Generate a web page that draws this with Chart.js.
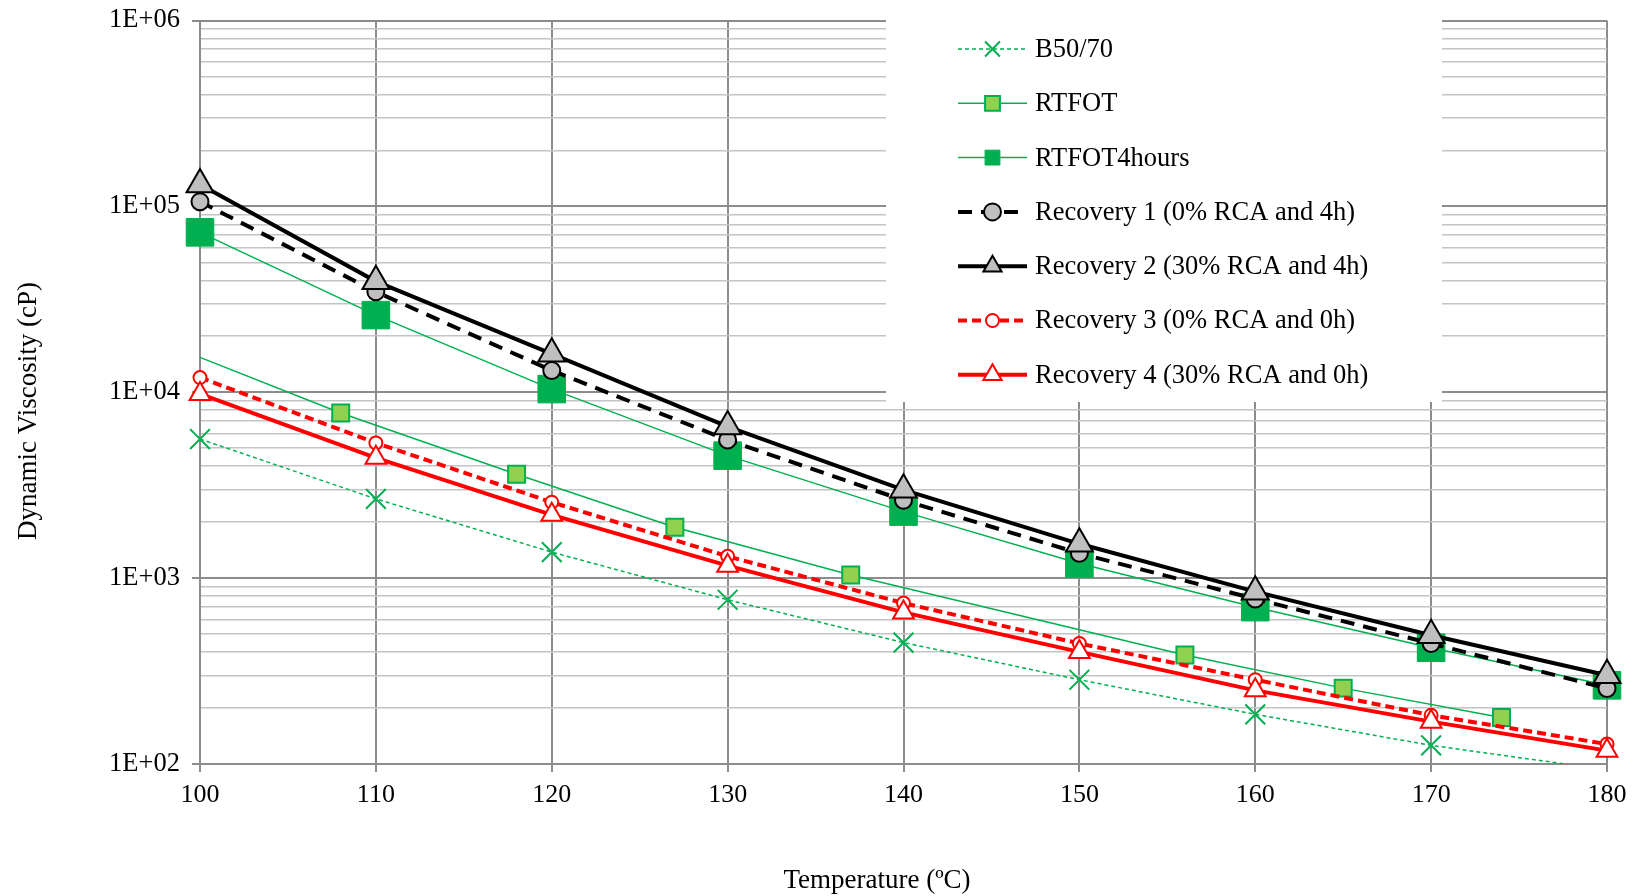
<!DOCTYPE html>
<html>
<head>
<meta charset="utf-8">
<script src="https://cdn.jsdelivr.net/npm/chart.js@4.4.0/dist/chart.umd.min.js"></script>
<style>
body{margin:0;background:#fff;}
#wrap{width:1634px;height:896px;}
</style>
</head>
<body>
<div id="wrap"><canvas id="chart" width="1634" height="896"></canvas></div>
<script>
// temperatures (ºC)
const temps=[100,110,120,130,140,150,160,170,180];
const rtfotTemps=[100,108,118,127,137,156,165,174];

// viscosity (cP)
const b5070=[5600,2670,1380,765,450,284,185,126,93];
const rtfot=[15400,7730,3620,1880,1040,386,256,178];
const rtfot4h=[72500,26000,10400,4560,2280,1200,698,422,265];
const recovery1=[106000,34700,13100,5530,2625,1360,773,445,255];
const recovery2=[131000,39500,16100,6540,2985,1530,846,493,300];
const recovery3=[12000,5340,2560,1310,734,445,284,183,128];
const recovery4=[9800,4440,2190,1167,654,401,249,169,118];

const seriesNames=['B50/70','RTFOT','RTFOT4hours','Recovery 1 (0% RCA and 4h)','Recovery 2 (30% RCA and 4h)','Recovery 3 (0% RCA and 0h)','Recovery 4 (30% RCA and 0h)'];

const yDecades=[100,1000,10000,100000,1000000];
const yTickLabels=['1E+02','1E+03','1E+04','1E+05','1E+06'];
const xTicks=[100,110,120,130,140,150,160,170,180];

const FONT='"Liberation Serif", "Times New Roman", serif';
const GREEN='#00B050', LIGHTGREEN='#92D050', GREY='#BFBFBF', RED='#FF0000';

// minor log gridlines 2..9 inside each decade
const yTickValues=[];
yDecades.forEach((d,i)=>{
    yTickValues.push(d);
    if(i<yDecades.length-1){
        for(let k=2;k<=9;k++) yTickValues.push(d*k);
    }
});

const pts=(xs,ys)=>ys.map((v,i)=>({x:xs[i],y:v}));
const noClip={left:false,top:false,right:false,bottom:false};

const datasets=[
    {
        // last point lies under the axis minimum: Excel hides its marker
        label:seriesNames[0], data:pts(temps,b5070),
        borderColor:GREEN, borderWidth:1.5, borderDash:[4,3],
        pointStyle:'crossRot', pointRadius:[14,14,14,14,14,14,14,14,0], pointBorderWidth:2,
        pointBorderColor:GREEN, pointBackgroundColor:GREEN,
        clip:{left:false,top:false,right:false,bottom:0}
    },
    {
        label:seriesNames[1], data:pts(rtfotTemps,rtfot),
        borderColor:GREEN, borderWidth:1.5,
        pointStyle:'rect', pointRadius:[0,12,12,12,12,12,12,12], pointBorderWidth:2,
        pointBorderColor:GREEN, pointBackgroundColor:LIGHTGREEN, clip:noClip
    },
    {
        label:seriesNames[2], data:pts(temps,rtfot4h),
        borderColor:GREEN, borderWidth:1.5,
        pointStyle:'rect', pointRadius:19.5, pointBorderWidth:1,
        pointBorderColor:GREEN, pointBackgroundColor:GREEN, clip:noClip
    },
    {
        label:seriesNames[3], data:pts(temps,recovery1),
        borderColor:'#000', borderWidth:4, borderDash:[14,9],
        pointStyle:'circle', pointRadius:8.5, pointBorderWidth:2,
        pointBorderColor:'#000', pointBackgroundColor:GREY, clip:noClip
    },
    {
        label:seriesNames[4], data:pts(temps,recovery2),
        borderColor:'#000', borderWidth:4,
        pointStyle:'triangle', pointRadius:15.5, pointBorderWidth:2,
        pointBorderColor:'#000', pointBackgroundColor:GREY, clip:noClip
    },
    {
        label:seriesNames[5], data:pts(temps,recovery3),
        borderColor:RED, borderWidth:4, borderDash:[9,5],
        pointStyle:'circle', pointRadius:6.5, pointBorderWidth:2,
        pointBorderColor:RED, pointBackgroundColor:'#fff', clip:noClip
    },
    {
        label:seriesNames[6], data:pts(temps,recovery4),
        borderColor:RED, borderWidth:4,
        pointStyle:'triangle', pointRadius:12, pointBorderWidth:2,
        pointBorderColor:RED, pointBackgroundColor:'#fff', clip:noClip
    }
];
datasets.forEach((d,i)=>{
    d.order=datasets.length-i;
    d.tension=0;
    d.fill=false;
    d.pointHoverRadius=d.pointRadius;
});

// legend box that sits over the grid, like the Excel one
const boxLegend={
    id:'boxLegend',
    beforeDatasetsDraw(chart){
        const ctx=chart.ctx;
        ctx.save();
        ctx.fillStyle='#fff';
        ctx.fillRect(886,19,556,383);
        chart.data.datasets.forEach((ds,i)=>{
            const y=49+i*54.3;
            ctx.save();
            ctx.strokeStyle=ds.borderColor;
            ctx.lineWidth=ds.borderWidth;
            ctx.setLineDash(ds.borderDash||[]);
            ctx.beginPath();
            ctx.moveTo(958,y);
            ctx.lineTo(1027,y);
            ctx.stroke();
            ctx.setLineDash([]);
            ctx.fillStyle=ds.pointBackgroundColor;
            ctx.strokeStyle=ds.pointBorderColor;
            ctx.lineWidth=ds.pointBorderWidth;
            const r=Math.min(Array.isArray(ds.pointRadius)?ds.pointRadius[1]:ds.pointRadius,10.5);
            Chart.helpers.drawPoint(ctx,{pointStyle:ds.pointStyle,radius:r,rotation:0,borderWidth:ds.pointBorderWidth},992.5,y);
            ctx.restore();
            ctx.fillStyle='#000';
            ctx.font='26.5px '+FONT;
            ctx.textBaseline='middle';
            ctx.textAlign='left';
            ctx.fillText(ds.label,1035,y+1);
        });
        ctx.restore();
    }
};

// axis titles placed where Excel put them
const axisTitles={
    id:'axisTitles',
    afterDraw(chart){
        const ctx=chart.ctx;
        ctx.save();
        ctx.fillStyle='#000';
        ctx.font='27px '+FONT;
        ctx.textAlign='center';
        ctx.textBaseline='middle';
        ctx.fillText('Temperature (ºC)',877,881);
        ctx.translate(29,411);
        ctx.rotate(-Math.PI/2);
        ctx.fillText('Dynamic Viscosity (cP)',0,0);
        ctx.restore();
    }
};

const isDecade=v=>yDecades.includes(v);

const chart=document.querySelector('#chart').getContext('2d');

new Chart(chart,{
    type:'line',
    data:{datasets:datasets},
    options:{
        responsive:false,
        animation:false,
        events:[],
        layout:{padding:{top:17,right:27,bottom:0,left:0}},
        plugins:{legend:{display:false},tooltip:{enabled:false}},
        scales:{
            x:{
                type:'linear',
                min:100,max:180,
                afterBuildTicks:(scale)=>{scale.ticks=xTicks.map(v=>({value:v}));},
                afterFit:(scale)=>{scale.height=132;scale.paddingLeft=0;scale.paddingRight=0;},
                ticks:{
                    autoSkip:false,maxRotation:0,padding:8,color:'#000',
                    font:{family:FONT,size:26}
                },
                grid:{color:'#8C8C8C',lineWidth:2,tickLength:8,tickColor:'#8C8C8C',tickWidth:2},
                border:{display:true,color:'#8C8C8C',width:2}
            },
            y:{
                type:'logarithmic',
                min:100,max:1000000,
                afterBuildTicks:(scale)=>{scale.ticks=yTickValues.map(v=>({value:v}));},
                afterFit:(scale)=>{scale.width=200;scale.paddingTop=0;scale.paddingBottom=0;},
                ticks:{
                    autoSkip:false,padding:12,color:'#000',
                    font:{family:FONT,size:26.5},
                    callback:(v)=>{const i=yDecades.indexOf(v);return i<0?'':yTickLabels[i];}
                },
                grid:{
                    color:(c)=>isDecade(c.tick.value)?'#8C8C8C':'#C4C4C4',
                    lineWidth:(c)=>isDecade(c.tick.value)?2:1.6,
                    tickLength:8,
                    tickColor:(c)=>isDecade(c.tick.value)?'#8C8C8C':'rgba(0,0,0,0)',
                    tickWidth:2
                },
                border:{display:true,color:'#8C8C8C',width:2}
            }
        }
    },
    plugins:[boxLegend,axisTitles]
});
</script>
</body>
</html>
